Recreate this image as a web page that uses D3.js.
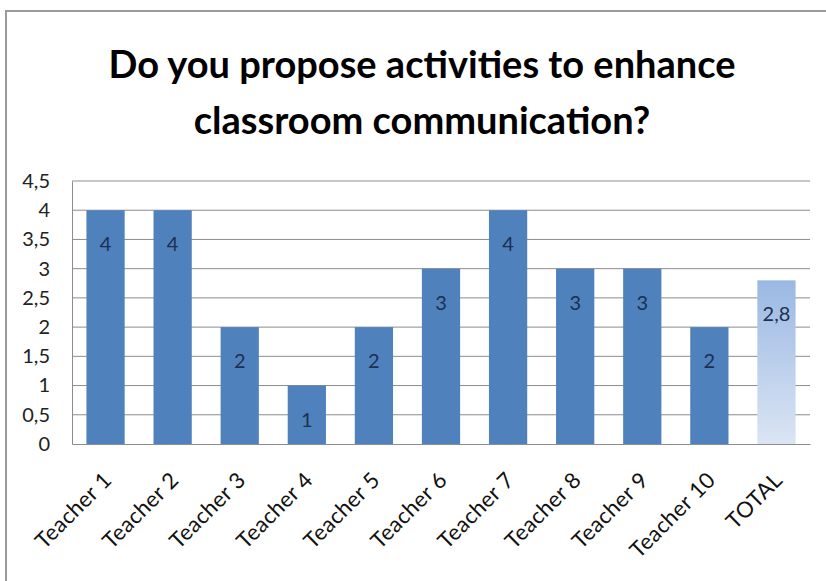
<!DOCTYPE html>
<html>
<head>
<meta charset="utf-8">
<script src="https://cdn.jsdelivr.net/npm/d3@7"></script>
<style>
  html, body { margin: 0; padding: 0; background: #fff; }
  svg { display: block; }
</style>
</head>
<body>
<svg id="chart" width="826" height="581"></svg>
<script>
// Survey answers per teacher, plus the overall average
const categories = ["Teacher 1", "Teacher 2", "Teacher 3", "Teacher 4", "Teacher 5",
                    "Teacher 6", "Teacher 7", "Teacher 8", "Teacher 9", "Teacher 10", "TOTAL"];
const values = [4, 4, 2, 1, 2, 3, 4, 3, 3, 2, 2.8];
const yTicks = [0, 0.5, 1, 1.5, 2, 2.5, 3, 3.5, 4, 4.5];
const titleLines = ["Do you propose activities to enhance", "classroom communication?"];

const locale = d3.formatLocale({ decimal: ",", thousands: ".", grouping: [3], currency: ["", "€"] });
const fmt = locale.format("~g");

const svg = d3.select("#chart");
const W = 826, H = 581;
const plot = { left: 72, right: 810, top: 181, bottom: 444 };
const font = "Lato, 'Open Sans', 'Liberation Sans', sans-serif";

// outer frame
svg.append("rect")
  .attr("x", 6).attr("y", 11)
  .attr("width", W + 20).attr("height", H + 20)
  .attr("fill", "#fff").attr("stroke", "#9a9a9a").attr("stroke-width", 2);

// title
svg.append("g").selectAll("text").data(titleLines).join("text")
  .attr("x", 422).attr("y", (d, i) => 78 + i * 56)
  .attr("text-anchor", "middle")
  .attr("font-family", font).attr("font-weight", 700)
  .attr("font-size", 38).attr("fill", "#000")
  .text(d => d);

const x = d3.scaleBand().domain(categories).range([plot.left, plot.right]).paddingInner(0.43).paddingOuter(0.215);
const y = d3.scaleLinear().domain([0, 4.5]).range([plot.bottom, plot.top]);

// gridlines
svg.append("g").selectAll("line").data(yTicks.filter(t => t > 0)).join("line")
  .attr("x1", plot.left).attr("x2", plot.right)
  .attr("y1", d => y(d)).attr("y2", d => y(d))
  .attr("stroke", "#8c8c8c").attr("stroke-width", 1);

// y axis
const yAxis = svg.append("g").attr("transform", `translate(${plot.left},0)`)
  .call(d3.axisLeft(y).tickValues(yTicks).tickFormat(fmt).tickSize(0).tickPadding(22));
yAxis.select(".domain").attr("stroke", "#8c8c8c");
yAxis.selectAll("text").attr("font-family", font).attr("font-size", 20).attr("fill", "#222");

// gradient for the total bar
const defs = svg.append("defs");
const grad = defs.append("linearGradient").attr("id", "totalGrad")
  .attr("x1", 0).attr("y1", 0).attr("x2", 0).attr("y2", 1);
grad.append("stop").attr("offset", "0%").attr("stop-color", "#9ab8e3");
grad.append("stop").attr("offset", "100%").attr("stop-color", "#dbe5f4");

// bars
svg.append("g").selectAll("rect").data(values).join("rect")
  .attr("x", (d, i) => x(categories[i]))
  .attr("y", d => y(d))
  .attr("width", x.bandwidth())
  .attr("height", d => y(0) - y(d))
  .attr("fill", (d, i) => categories[i] === "TOTAL" ? "url(#totalGrad)" : "#4f81bd");

// value labels
svg.append("g").selectAll("text").data(values).join("text")
  .attr("x", (d, i) => x(categories[i]) + x.bandwidth() / 2)
  .attr("y", d => y(d) + 41)
  .attr("text-anchor", "middle")
  .attr("font-family", font).attr("font-size", 20).attr("fill", "#1c3050")
  .text(d => fmt(d));

// x axis
const xAxis = svg.append("g").attr("transform", `translate(0,${plot.bottom})`)
  .call(d3.axisBottom(x).tickSize(0).tickFormat(d => d));
xAxis.select(".domain").attr("stroke", "#8c8c8c");
xAxis.selectAll("text")
  .attr("font-family", font).attr("font-size", 22).attr("fill", "#111")
  .attr("letter-spacing", 0.4)
  .attr("text-anchor", "end")
  .attr("x", 0).attr("y", 0).attr("dy", "0.35em")
  .attr("transform", "translate(2,32) rotate(-45)");
</script>
</body>
</html>
